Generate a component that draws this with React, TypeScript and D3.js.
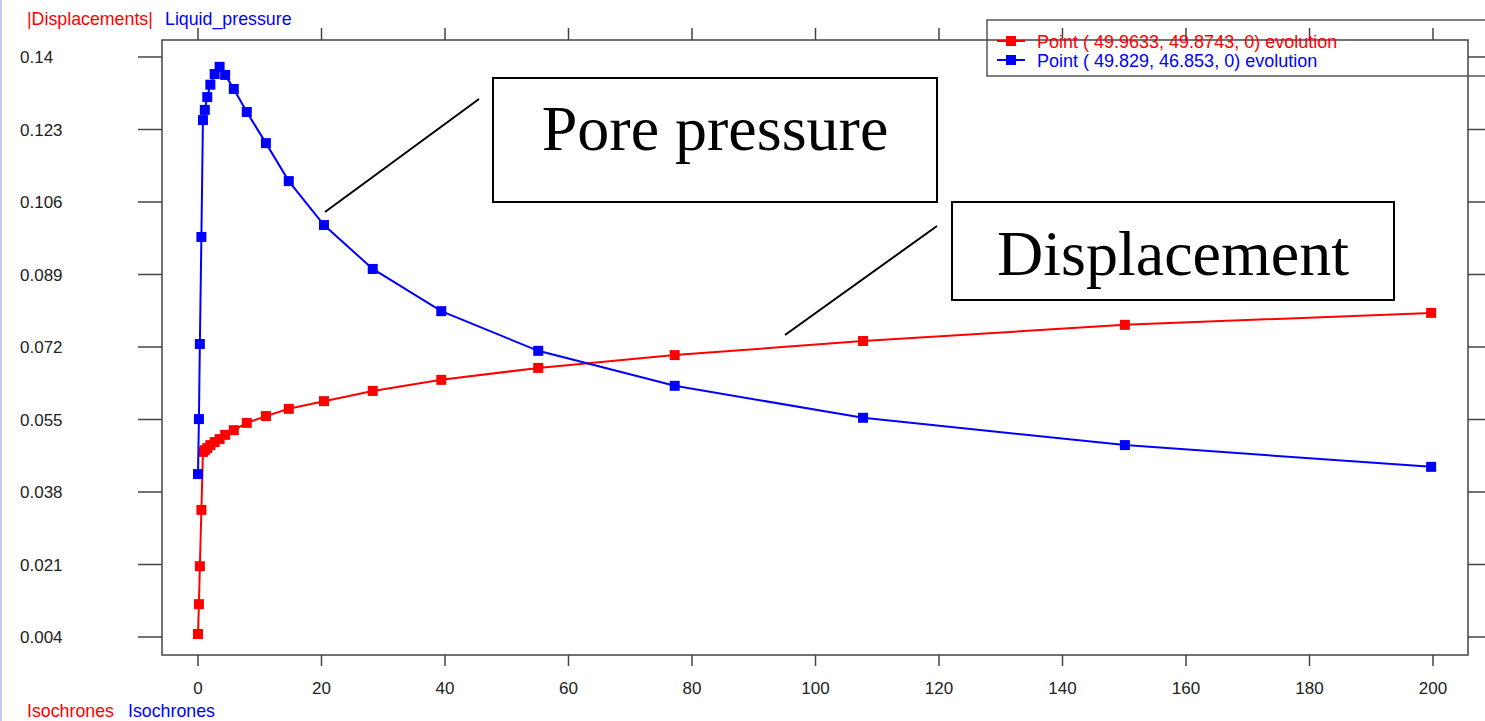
import React from "react";
import * as d3 from "d3";

const times = [0, 0.15, 0.3, 0.55, 0.8, 1.1, 1.5, 2.0, 2.7, 3.5, 4.4, 5.8, 7.9, 11, 14.7, 20.4, 28.3, 39.4, 55.1, 77.2, 107.7, 150.1, 199.7];
const displacement = [0.0047, 0.0117, 0.0206, 0.0338, 0.0474, 0.0478, 0.0483, 0.049, 0.0497, 0.0504, 0.0514, 0.0525, 0.0542, 0.0558, 0.0575, 0.0593, 0.0617, 0.0643, 0.0671, 0.0701, 0.0734, 0.0772, 0.08];
const pressure = [0.0422, 0.0551, 0.0727, 0.0978, 0.1252, 0.1276, 0.1306, 0.1335, 0.136, 0.1377, 0.1358, 0.1325, 0.1271, 0.1198, 0.1109, 0.1006, 0.0903, 0.0804, 0.0711, 0.0629, 0.0554, 0.049, 0.0439];
const xTicks = [0, 20, 40, 60, 80, 100, 120, 140, 160, 180, 200];
const yTicks = [0.14, 0.123, 0.106, 0.089, 0.072, 0.055, 0.038, 0.021, 0.004];
const legendLabels = ["Point ( 49.9633, 49.8743, 0) evolution", "Point ( 49.829, 46.853, 0) evolution"];

const RED = "#ff0000";
const BLUE = "#0000ff";
const SANS = "'Liberation Sans', Arial, sans-serif";
const SERIF = "'Liberation Serif', 'Times New Roman', serif";

export default function App() {
  const W = 1485, H = 721;
  const frame = { l: 162, r: 1468, t: 40, b: 655 };
  const x = d3.scaleLinear().domain([0, 200]).range([198, 1433]);
  const y = d3.scaleLinear().domain([0.004, 0.14]).range([637, 57]);
  const line = d3.line<number>().x((_, i) => x(times[i])).y((d) => y(d));
  const series = [
    { vals: displacement, color: RED },
    { vals: pressure, color: BLUE },
  ];
  const ms = 10;
  return (
    <svg width={W} height={H} style={{ position: "absolute", left: 0, top: 0, background: "#fff" }}>
      <rect x={0} y={0} width={W} height={H} fill="#fff" />
      <line x1={1} y1={0} x2={1} y2={H} stroke="#c8c8f0" strokeWidth={2} />
      {/* axis titles */}
      <text x={27} y={25} fontFamily={SANS} fontSize={17.8} fill={RED}>|Displacements|</text>
      <text x={165} y={25} fontFamily={SANS} fontSize={17.8} fill={BLUE}>Liquid_pressure</text>
      <text x={27} y={717} fontFamily={SANS} fontSize={17.8} fill={RED}>Isochrones</text>
      <text x={128} y={717} fontFamily={SANS} fontSize={17.8} fill={BLUE}>Isochrones</text>
      {/* frame */}
      <rect x={frame.l} y={frame.t} width={frame.r - frame.l} height={frame.b - frame.t} fill="none" stroke="#444" strokeWidth={1.5} />
      {/* y ticks */}
      {yTicks.map((v) => (
        <g key={"y" + v}>
          <line x1={138} x2={frame.l} y1={y(v)} y2={y(v)} stroke="#444" strokeWidth={1.5} />
          <line x1={frame.r} x2={W} y1={y(v)} y2={y(v)} stroke="#444" strokeWidth={1.5} />
          <text x={20} y={y(v) + 6} fontFamily={SANS} fontSize={17} fill="#222">{String(v)}</text>
        </g>
      ))}
      {/* x ticks */}
      {xTicks.map((v) => (
        <g key={"x" + v}>
          <line x1={x(v)} x2={x(v)} y1={frame.b} y2={frame.b + 11} stroke="#444" strokeWidth={1.5} />
          <line x1={x(v)} x2={x(v)} y1={frame.t - 12} y2={frame.t} stroke="#444" strokeWidth={1.5} />
          <text x={x(v)} y={694} textAnchor="middle" fontFamily={SANS} fontSize={17} fill="#222">{String(v)}</text>
        </g>
      ))}
      {/* series */}
      {series.map((s, si) => (
        <g key={"s" + si}>
          <path d={line(s.vals) || ""} fill="none" stroke={s.color} strokeWidth={2} />
          {s.vals.map((v, i) => (
            <rect key={i} x={x(times[i]) - ms / 2} y={y(v) - ms / 2} width={ms} height={ms} fill={s.color} />
          ))}
        </g>
      ))}
      {/* legend */}
      <rect x={987} y={20} width={520} height={56} fill="none" stroke="#555" strokeWidth={1.5} />
      {legendLabels.map((lab, i) => {
        const cy = 41 + i * 19;
        const c = i === 0 ? RED : BLUE;
        return (
          <g key={"l" + i}>
            <line x1={997} x2={1025} y1={cy} y2={cy} stroke={c} strokeWidth={2} />
            <rect x={1011 - 5} y={cy - 5} width={10} height={10} fill={c} />
            <text x={1037} y={cy + 7} fontFamily={SANS} fontSize={18} fill={c}>{lab}</text>
          </g>
        );
      })}
      {/* annotations */}
      <line x1={325} y1={212} x2={479} y2={99} stroke="#000" strokeWidth={2} />
      <rect x={493} y={78} width={444} height={124} fill="#fff" stroke="#000" strokeWidth={2} />
      <text x={715} y={150} textAnchor="middle" fontFamily={SERIF} fontSize={64} fill="#000">Pore pressure</text>
      <line x1={785} y1={335} x2={937} y2={226} stroke="#000" strokeWidth={2} />
      <rect x={952} y={202} width={442} height={98} fill="#fff" stroke="#000" strokeWidth={2} />
      <text x={1173} y={275} textAnchor="middle" fontFamily={SERIF} fontSize={64} fill="#000">Displacement</text>
    </svg>
  );
}
